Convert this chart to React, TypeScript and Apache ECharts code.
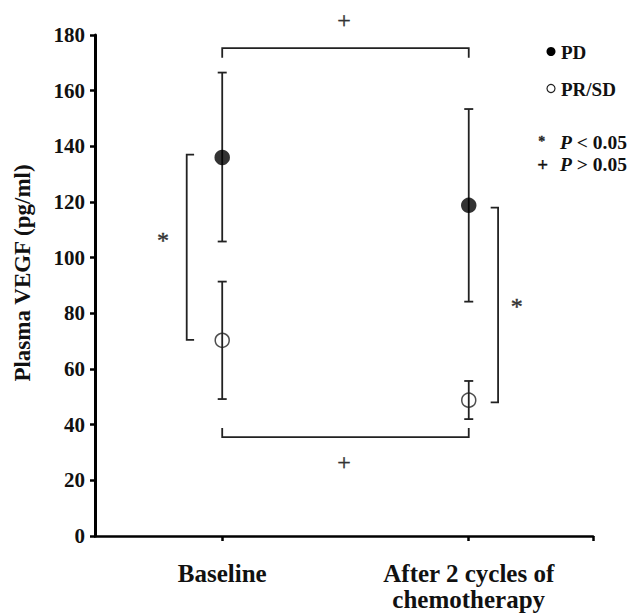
import React, { useEffect, useRef } from "react";
import * as echarts from "echarts";

// categories (x positions 1 and 2)
const categories = ["Baseline", "After 2 cycles of\nchemotherapy"];
const catX = [1, 2];
// PD group: mean, lower, upper
const pdMean = [136, 118.8];
const pdLow = [105.8, 84.2];
const pdHigh = [166.5, 153.4];
// PR/SD group
const prMean = [70.3, 48.8];
const prLow = [49.2, 42];
const prHigh = [91.4, 55.7];
// y ticks
const yTicks = [0, 20, 40, 60, 80, 100, 120, 140, 160, 180];
// significance brackets (polylines in data coords)
const bracketTop = [[1, 171.8], [1, 175.3], [2, 175.3], [2, 171.8]];
const bracketBottom = [[1, 38.8], [1, 35.5], [2, 35.5], [2, 38.8]];
const bracketLeft = [[0.886, 137], [0.856, 137], [0.856, 70.5], [0.886, 70.5]];
const bracketRight = [[2.089, 118], [2.119, 118], [2.119, 48], [2.089, 48]];
const brackets = [bracketTop, bracketBottom, bracketLeft, bracketRight];
// significance marks: [x, y, symbol]
const marks: [number, number, string][] = [
  [1.494, 185.5, "+"],
  [1.494, 26.6, "+"],
  [0.76, 106.5, "*"],
  [2.195, 82.5, "*"],
];

const FONT = "'Liberation Serif', 'Times New Roman', serif";

export default function App() {
  const ref = useRef<HTMLDivElement>(null);
  useEffect(() => {
    if (!ref.current) return;
    const chart = echarts.init(ref.current, null, { renderer: "svg" });
    const errData = catX.map((x, i) => [x, pdLow[i], pdHigh[i]]).concat(
      catX.map((x, i) => [x, prLow[i], prHigh[i]])
    );
    chart.setOption({
      animation: false,
      backgroundColor: "#ffffff",
      grid: { left: 95, right: 36, top: 35, bottom: 79 },
      xAxis: {
        type: "value",
        min: 0.484,
        max: 2.504,
        splitLine: { show: false },
        axisLine: { lineStyle: { color: "#000", width: 2.5 } },
        axisTick: {
          customValues: [1, 2, 2.504],
          length: 5,
          lineStyle: { color: "#000", width: 2.5 },
        },
        axisLabel: {
          customValues: catX,
          formatter: (v: number) => categories[catX.indexOf(Math.round(v))] ?? "",
          color: "#111",
          fontFamily: FONT,
          fontWeight: "bold",
          fontSize: 25,
          lineHeight: 26,
          margin: 24,
        },
      },
      yAxis: {
        type: "value",
        min: 0,
        max: 180,
        interval: 20,
        splitLine: { show: false },
        axisLine: { show: true, lineStyle: { color: "#000", width: 3 } },
        axisTick: { show: true, length: 5, lineStyle: { color: "#000", width: 2.5 } },
        axisLabel: {
          color: "#111",
          fontFamily: FONT,
          fontWeight: "bold",
          fontSize: 21,
          margin: 10,
          formatter: (v: number) => (yTicks.includes(v) ? String(v) : ""),
        },
      },
      series: [
        {
          type: "custom",
          name: "errorbars",
          data: errData,
          clip: false,
          itemStyle: { color: "#222" },
          renderItem: (params: any, api: any) => {
            const x = api.value(0);
            const lo = api.coord([x, api.value(1)]);
            const hi = api.coord([x, api.value(2)]);
            const hw = 4.5;
            const st = { stroke: "#222", lineWidth: 1.8 };
            return {
              type: "group",
              children: [
                { type: "line", shape: { x1: lo[0], y1: lo[1], x2: hi[0], y2: hi[1] }, style: st },
                { type: "line", shape: { x1: lo[0] - hw, y1: lo[1], x2: lo[0] + hw, y2: lo[1] }, style: st },
                { type: "line", shape: { x1: hi[0] - hw, y1: hi[1], x2: hi[0] + hw, y2: hi[1] }, style: st },
              ],
            };
          },
          z: 2,
        },
        {
          type: "scatter",
          name: "PD",
          data: catX.map((x, i) => [x, pdMean[i]]),
          symbol: "circle",
          symbolSize: 15.5,
          itemStyle: { color: "#000" },
          z: 3,
        },
        {
          type: "scatter",
          name: "PR/SD",
          data: catX.map((x, i) => [x, prMean[i]]),
          symbol: "circle",
          symbolSize: 14,
          itemStyle: { color: "rgba(255,255,255,0)", borderColor: "#222", borderWidth: 1.5 },
          z: 3,
        },
        {
          type: "custom",
          name: "brackets",
          data: brackets.map((_, i) => [i]),
          clip: false,
          itemStyle: { color: "#222" },
          renderItem: (params: any, api: any) => {
            const pts = brackets[api.value(0)].map((p) => api.coord(p));
            return {
              type: "polyline",
              shape: { points: pts },
              style: { stroke: "#222", lineWidth: 1.8, fill: "none" },
            };
          },
          z: 1,
        },
        {
          type: "custom",
          name: "marks",
          data: marks.map((m, i) => [m[0], m[1], i]),
          clip: false,
          itemStyle: { color: "#222" },
          renderItem: (params: any, api: any) => {
            const p = api.coord([api.value(0), api.value(1)]);
            const sym = marks[api.value(2)][2];
            return {
              type: "text",
              x: p[0],
              y: p[1],
              style: {
                text: sym,
                fill: "#333",
                stroke: "#333",
                lineWidth: 0.4,
                font: `normal 24px ${FONT}`,
                align: "center",
                verticalAlign: "middle",
              },
            };
          },
          z: 1,
        },
      ],
      graphic: [
        {
          type: "text",
          x: 22,
          y: 273,
          rotation: Math.PI / 2,
          style: {
            text: "Plasma VEGF (pg/ml)",
            font: `bold 23px ${FONT}`,
            fill: "#111",
            align: "center",
            verticalAlign: "middle",
          },
        },
        { type: "circle", shape: { cx: 551, cy: 51.5, r: 4.5 }, style: { fill: "#000" } },
        {
          type: "text",
          x: 561,
          y: 52,
          style: { text: "PD", font: `bold 19px ${FONT}`, fill: "#111", verticalAlign: "middle" },
        },
        { type: "circle", shape: { cx: 551, cy: 88.5, r: 4 }, style: { fill: "#fff", stroke: "#222", lineWidth: 1.2 } },
        {
          type: "text",
          x: 561,
          y: 89,
          style: { text: "PR/SD", font: `bold 19px ${FONT}`, fill: "#111", verticalAlign: "middle" },
        },
        {
          type: "text",
          x: 541.7,
          y: 141,
          style: { text: "*", font: `bold 14px ${FONT}`, fill: "#222", stroke: "#222", lineWidth: 0.3, align: "center", verticalAlign: "middle" },
        },
        {
          type: "text",
          x: 560,
          y: 142,
          style: {
            text: "{i|P} < 0.05",
            font: `bold 19.5px ${FONT}`,
            fill: "#111",
            verticalAlign: "middle",
            rich: { i: { fontStyle: "italic", fontWeight: "bold", fontSize: 19.5, fontFamily: FONT } },
          },
        },
        {
          type: "text",
          x: 542.7,
          y: 164,
          style: { text: "+", font: `bold 19px ${FONT}`, fill: "#111", stroke: "#111", lineWidth: 0.3, align: "center", verticalAlign: "middle" },
        },
        {
          type: "text",
          x: 560,
          y: 164,
          style: {
            text: "{i|P} > 0.05",
            font: `bold 19.5px ${FONT}`,
            fill: "#111",
            verticalAlign: "middle",
            rich: { i: { fontStyle: "italic", fontWeight: "bold", fontSize: 19.5, fontFamily: FONT } },
          },
        },
      ],
    });
    return () => chart.dispose();
  }, []);
  return (
    <div
      ref={ref}
      style={{ position: "fixed", left: 0, top: 0, width: 629, height: 615, background: "#fff" }}
    />
  );
}
